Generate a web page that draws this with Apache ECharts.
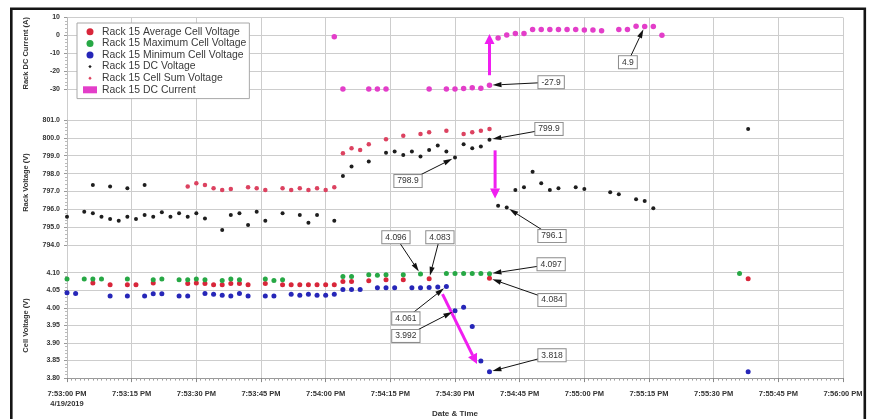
<!DOCTYPE html>
<html>
<head>
<meta charset="utf-8">
<script src="https://cdn.jsdelivr.net/npm/echarts@6/dist/echarts.min.js"></script>
<style>
  html, body { margin: 0; padding: 0; background: #fff; }
  #chart { width: 873px; height: 419px; }
</style>
</head>
<body>
<div id="chart"></div>
<script>
// Time axis: seconds after 7:53:00 PM on 4/19/2019, one tick label every 15 s
const timeTickLabels = ['7:53:00 PM\n4/19/2019', '7:53:15 PM', '7:53:30 PM', '7:53:45 PM',
  '7:54:00 PM', '7:54:15 PM', '7:54:30 PM', '7:54:45 PM', '7:55:00 PM', '7:55:15 PM',
  '7:55:30 PM', '7:55:45 PM', '7:56:00 PM'];

// Rack 15 DC current (A): [seconds, amps]
const dcCurrent = [[62, -0.7], [64, -30], [70, -30], [72, -30], [74, -30], [84, -30], [88, -30],
  [90, -30], [92, -29.7], [94, -29.3], [96, -29.6], [98, -27.9], [100, -1.4], [102, 0.2],
  [104, 1.0], [106, 1.0], [108, 3.3], [110, 3.3], [112, 3.3], [114, 3.3], [116, 3.3],
  [118, 3.3], [120, 3.0], [122, 3.0], [124, 2.6], [128, 3.3], [130, 3.3], [132, 5.1],
  [134, 4.9], [136, 5.0], [138, 0.1]];

// Rack 15 DC voltage (V)
const dcVoltage = [[0, 795.58], [4, 795.86], [6, 795.78], [8, 795.58], [10, 795.45], [12, 795.36],
  [14, 795.58], [16, 795.45], [18, 795.68], [20, 795.58], [22, 795.83], [24, 795.58],
  [26, 795.78], [28, 795.58], [30, 795.78], [32, 795.48], [36, 794.84], [38, 795.68],
  [40, 795.78], [42, 795.12], [44, 795.86], [46, 795.36], [50, 795.78], [54, 795.68],
  [56, 795.25], [58, 795.68], [62, 795.36],
  [6, 797.36], [10, 797.27], [14, 797.18], [18, 797.36],
  [64, 797.86], [66, 798.39], [70, 798.67], [74, 799.17], [76, 799.23], [78, 799.04],
  [80, 799.23], [82, 798.95], [84, 799.32], [86, 799.57], [88, 799.23], [90, 798.9],
  [92, 799.64], [94, 799.42], [96, 799.51], [98, 799.9], [100, 796.2], [102, 796.1],
  [104, 797.08], [106, 797.23], [108, 798.1], [110, 797.46], [112, 797.08], [114, 797.18],
  [118, 797.23], [120, 797.14], [126, 796.95], [128, 796.84], [132, 796.56], [134, 796.46],
  [136, 796.06], [158, 800.5]];

// Rack 15 cell sum voltage (V)
const cellSumVoltage = [[28, 797.27], [30, 797.46], [32, 797.36], [34, 797.18], [36, 797.08],
  [38, 797.14], [42, 797.23], [44, 797.18], [46, 797.08], [50, 797.18], [52, 797.08],
  [54, 797.18], [56, 797.08], [58, 797.18], [60, 797.08], [62, 797.23], [64, 799.14],
  [66, 799.42], [68, 799.32], [70, 799.64], [74, 799.92], [78, 800.12], [82, 800.21],
  [84, 800.31], [88, 800.4], [92, 800.21], [94, 800.31], [96, 800.4], [98, 800.5]];

// Rack 15 cell voltages (V)
const avgCellVoltage = [[6, 4.071], [10, 4.066], [14, 4.066], [16, 4.066], [20, 4.071], [28, 4.069],
  [30, 4.071], [32, 4.069], [34, 4.066], [36, 4.066], [38, 4.069], [40, 4.069], [42, 4.066],
  [46, 4.069], [50, 4.066], [52, 4.066], [54, 4.066], [56, 4.066], [58, 4.066], [60, 4.066],
  [62, 4.066], [64, 4.075], [66, 4.075], [70, 4.077], [74, 4.080], [78, 4.080], [84, 4.083],
  [98, 4.084], [158, 4.083]];

const maxCellVoltage = [[0, 4.082], [4, 4.082], [6, 4.082], [8, 4.082], [14, 4.082], [20, 4.080],
  [22, 4.082], [26, 4.080], [28, 4.080], [30, 4.082], [32, 4.080], [36, 4.078], [38, 4.082],
  [40, 4.080], [46, 4.082], [48, 4.078], [50, 4.080], [64, 4.089], [66, 4.089], [70, 4.094],
  [72, 4.093], [74, 4.094], [78, 4.094], [82, 4.096], [88, 4.098], [90, 4.098], [92, 4.098],
  [94, 4.098], [96, 4.098], [98, 4.097], [156, 4.098]];

const minCellVoltage = [[0, 4.043], [2, 4.041], [10, 4.034], [14, 4.034], [18, 4.034], [20, 4.040],
  [22, 4.040], [26, 4.034], [28, 4.034], [32, 4.041], [34, 4.039], [36, 4.036], [38, 4.034],
  [40, 4.041], [42, 4.034], [46, 4.034], [48, 4.034], [52, 4.039], [54, 4.036], [56, 4.039],
  [58, 4.036], [60, 4.036], [62, 4.039], [64, 4.052], [66, 4.052], [68, 4.052], [72, 4.057],
  [74, 4.057], [76, 4.057], [80, 4.057], [82, 4.057], [84, 4.058], [86, 4.059], [88, 4.061],
  [90, 3.992], [92, 4.002], [94, 3.947], [96, 3.849], [98, 3.818], [158, 3.818]];

// Value callouts: which point is tagged, and where its tag box sits (axis units)
const callouts = [
  { grid: 0, series: dcCurrent, sec: 98, digits: 1, box: [112.3, -26.2] },
  { grid: 0, series: dcCurrent, sec: 134, digits: 1, box: [130.1, -15.0] },
  { grid: 1, series: dcVoltage, sec: 98, digits: 1, box: [111.8, 800.5] },
  { grid: 1, series: dcVoltage, sec: 90, digits: 1, box: [79.1, 797.58] },
  { grid: 1, series: dcVoltage, sec: 102, digits: 1, box: [112.5, 794.5] },
  { grid: 2, series: maxCellVoltage, sec: 82, digits: 3, box: [76.3, 4.201] },
  { grid: 2, series: avgCellVoltage, sec: 84, digits: 3, box: [86.5, 4.201] },
  { grid: 2, series: maxCellVoltage, sec: 98, digits: 3, box: [112.3, 4.124] },
  { grid: 2, series: avgCellVoltage, sec: 98, digits: 3, box: [112.5, 4.022] },
  { grid: 2, series: minCellVoltage, sec: 88, digits: 3, box: [78.6, 3.970] },
  { grid: 2, series: minCellVoltage, sec: 90, digits: 3, box: [78.6, 3.920] },
  { grid: 2, series: minCellVoltage, sec: 98, digits: 3, box: [112.5, 3.865] }
];

// Highlight arrows showing the step change in each panel (axis units)
const stepArrows = [
  { grid: 0, from: [98, -22.3], to: [98, 0.8] },
  { grid: 1, from: [99.3, 799.3], to: [99.3, 796.6] },
  { grid: 2, from: [87.1, 4.039], to: [95.1, 3.84] }
];

const chart = echarts.init(document.getElementById('chart'), null, { renderer: 'canvas' });

const GRID_LINE = '#cdcdcd';
const AXIS_TEXT = '#333';
const FONT = 'Liberation Sans, Arial, sans-serif';

function arrowShapes(from, to, color, width, headLen, headHalf, gap) {
  const dx = to[0] - from[0], dy = to[1] - from[1];
  const len = Math.hypot(dx, dy) || 1;
  const ux = dx / len, uy = dy / len;
  const tip = [to[0] - ux * gap, to[1] - uy * gap];
  const base = [tip[0] - ux * headLen, tip[1] - uy * headLen];
  const nx = -uy, ny = ux;
  return [
    { type: 'line', shape: { x1: from[0], y1: from[1], x2: base[0], y2: base[1] },
      style: { stroke: color, lineWidth: width } },
    { type: 'polygon', shape: { points: [tip,
        [base[0] + nx * headHalf, base[1] + ny * headHalf],
        [base[0] - nx * headHalf, base[1] - ny * headHalf]] },
      style: { fill: color } }
  ];
}

function valueAt(series, sec) {
  const p = series.find(d => d[0] === sec);
  return p[1];
}

function calloutSeries(gridIdx) {
  const items = callouts.filter(c => c.grid === gridIdx).map(c => {
    const v = valueAt(c.series, c.sec);
    return { row: [c.box[0], c.box[1], c.sec, v], text: v.toFixed(c.digits) };
  });
  return {
    type: 'custom', xAxisIndex: gridIdx, yAxisIndex: gridIdx, z: 6, silent: true, clip: false,
    encode: { x: [0, 2], y: [1, 3] },
    data: items.map(i => i.row),
    renderItem(params, api) {
      const b = api.coord([api.value(0), api.value(1)]);
      const t = api.coord([api.value(2), api.value(3)]);
      return {
        type: 'group',
        children: arrowShapes(b, t, '#111', 1, 9, 2.6, 3).concat([{
          type: 'text',
          style: {
            x: b[0], y: b[1], text: items[params.dataIndex].text,
            fill: '#333', fontSize: 8.5, fontFamily: FONT,
            align: 'center', verticalAlign: 'middle',
            backgroundColor: '#fff', borderColor: '#8c8c8c', borderWidth: 1, padding: [2, 3, 1, 3]
          }
        }])
      };
    }
  };
}

function stepArrowSeries(gridIdx) {
  const items = stepArrows.filter(a => a.grid === gridIdx);
  return {
    type: 'custom', xAxisIndex: gridIdx, yAxisIndex: gridIdx, z: 5, silent: true, clip: false,
    encode: { x: [0, 2], y: [1, 3] },
    data: items.map(a => [a.from[0], a.from[1], a.to[0], a.to[1]]),
    renderItem(params, api) {
      const f = api.coord([api.value(0), api.value(1)]);
      const t = api.coord([api.value(2), api.value(3)]);
      return { type: 'group', children: arrowShapes(f, t, '#f01ef0', 3, 10, 5, 0) };
    }
  };
}

function panelX(gridIdx, bottom) {
  return {
    type: 'value', gridIndex: gridIdx, min: 0, max: 180, interval: 15,
    show: bottom,
    splitLine: { show: false },
    axisLine: { show: bottom, onZero: false, lineStyle: { color: '#999' } },
    axisTick: { show: bottom, length: 4, lineStyle: { color: '#888' } },
    minorTick: { show: bottom, splitNumber: 15, length: 2.5, lineStyle: { color: '#a0a0a0' } },
    axisLabel: {
      show: bottom, margin: 11, fontSize: 7.5, fontWeight: 'bold', color: AXIS_TEXT,
      lineHeight: 10, fontFamily: FONT,
      formatter: v => timeTickLabels[Math.round(v / 15)] || ''
    },
    name: bottom ? 'Date & Time' : '', nameLocation: 'middle', nameGap: 28,
    nameTextStyle: { fontSize: 8, fontWeight: 'bold', color: AXIS_TEXT, fontFamily: FONT }
  };
}

function panelY(gridIdx, name, min, max, interval, digits) {
  return {
    type: 'value', gridIndex: gridIdx, min, max, interval,
    name, nameLocation: 'middle', nameRotate: 90, nameGap: 37,
    nameTextStyle: { fontSize: 7.5, fontWeight: 'bold', color: AXIS_TEXT, fontFamily: FONT },
    axisLine: { show: true, lineStyle: { color: '#bbb' } },
    axisTick: { show: true, length: 3, lineStyle: { color: '#999' } },
    minorTick: { show: true, splitNumber: 5, length: 2, lineStyle: { color: '#bbb' } },
    splitLine: { show: true, lineStyle: { color: GRID_LINE, width: 1 } },
    axisLabel: { margin: 7, fontSize: 7, fontWeight: 'bold', color: AXIS_TEXT, fontFamily: FONT,
      formatter: v => v.toFixed(digits) }
  };
}

function scatter(name, data, gridIdx, color, size) {
  return {
    name, type: 'scatter', xAxisIndex: gridIdx, yAxisIndex: gridIdx, data,
    symbol: 'circle', symbolSize: size, itemStyle: { color, opacity: 1 }, z: 3
  };
}

const smallDot = 'path://M0,0M10,10M5,2.6L7.4,5L5,7.4L2.6,5Z';

chart.setOption({
  animation: false,
  backgroundColor: '#fff',
  textStyle: { fontFamily: FONT },
  grid: [
    { left: 67, right: 30, top: 17.5, height: 71.5 },
    { left: 67, right: 30, top: 120, height: 125 },
    { left: 67, right: 30, top: 272.7, height: 109 },
    { left: 67, right: 30, top: 17.5, height: 364.2 }
  ],
  xAxis: [
    panelX(0, false), panelX(1, false), panelX(2, true),
    { type: 'value', gridIndex: 3, min: 0, max: 180, interval: 15,
      axisLine: { show: false }, axisTick: { show: false }, axisLabel: { show: false },
      splitLine: { show: true, lineStyle: { color: GRID_LINE, width: 1 } } }
  ],
  yAxis: [
    panelY(0, 'Rack DC Current (A)', -30, 10, 10, 0),
    panelY(1, 'Rack Voltage (V)', 794, 801, 1, 1),
    panelY(2, 'Cell Voltage (V)', 3.8, 4.1, 0.05, 2),
    { type: 'value', gridIndex: 3, min: 0, max: 1, show: false, splitLine: { show: false } }
  ],
  legend: {
    orient: 'vertical', left: 77, top: 23,
    padding: [3, 3, 3, 6], itemGap: 0, itemWidth: 14, itemHeight: 7,
    backgroundColor: '#fff', borderColor: '#a8a8a8', borderWidth: 1, z: 10,
    textStyle: { fontSize: 10.4, color: '#3a3a3a', lineHeight: 11.6 },
    data: [
      { name: 'Rack 15 Average Cell Voltage', icon: 'circle' },
      { name: 'Rack 15 Maximum Cell Voltage', icon: 'circle' },
      { name: 'Rack 15 Minimum Cell Voltage', icon: 'circle' },
      { name: 'Rack 15 DC Voltage', icon: smallDot },
      { name: 'Rack 15 Cell Sum Voltage', icon: smallDot },
      { name: 'Rack 15 DC Current', icon: 'rect' }
    ]
  },
  graphic: [{
    type: 'rect', silent: true, z: 100,
    shape: { x: 11.3, y: 8.8, width: 853.5, height: 430 },
    style: { fill: 'none', stroke: '#151515', lineWidth: 2.6 }
  }],
  series: [
    scatter('Rack 15 Average Cell Voltage', avgCellVoltage, 2, '#d8263a', 5),
    scatter('Rack 15 Maximum Cell Voltage', maxCellVoltage, 2, '#27a845', 5),
    scatter('Rack 15 Minimum Cell Voltage', minCellVoltage, 2, '#2626b8', 5),
    scatter('Rack 15 DC Voltage', dcVoltage, 1, '#1e1e1e', 4),
    scatter('Rack 15 Cell Sum Voltage', cellSumVoltage, 1, '#dc4260', 4.5),
    scatter('Rack 15 DC Current', dcCurrent, 0, '#e33ec9', 5.5),
    stepArrowSeries(0), stepArrowSeries(1), stepArrowSeries(2),
    calloutSeries(0), calloutSeries(1), calloutSeries(2)
  ]
});
</script>
</body>
</html>
